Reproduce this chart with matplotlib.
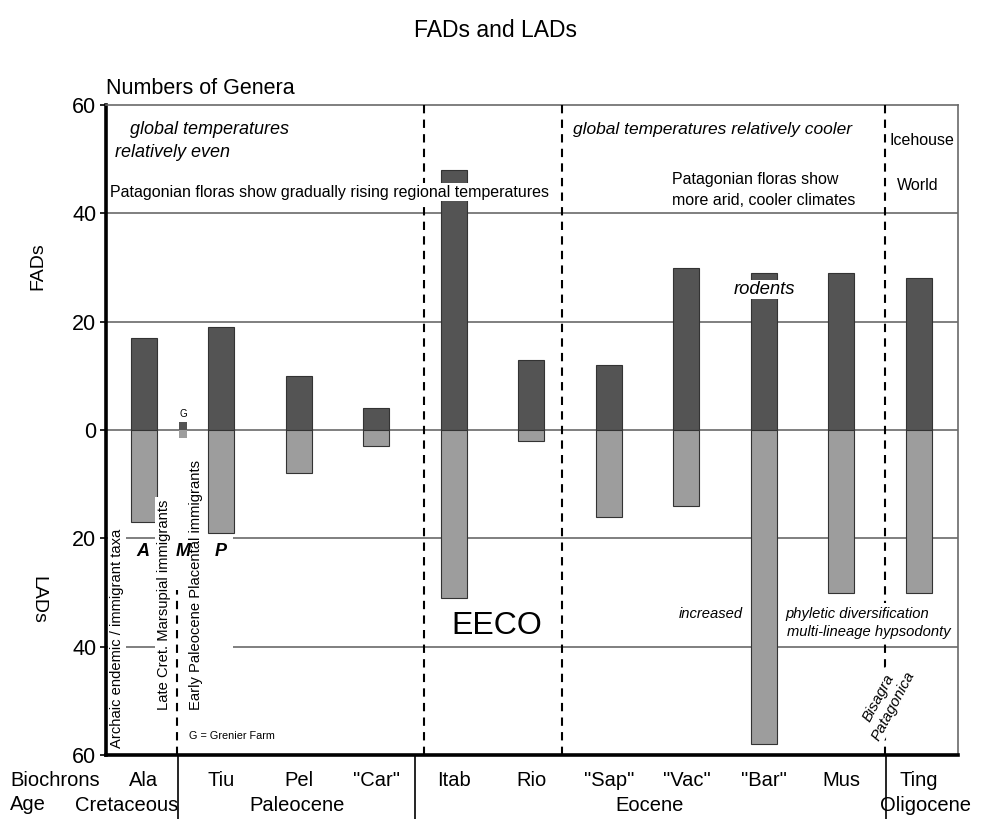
import matplotlib
matplotlib.use("Agg")
import matplotlib.pyplot as plt
import matplotlib.transforms as mtransforms

plt.rcParams['font.family'] = ['Liberation Sans', 'DejaVu Sans']

# ---------------- data ----------------
biochrons = ["Ala", "Tiu", "Pel", "\"Car\"", "Itab", "Rio", "\"Sap\"", "\"Vac\"", "\"Bar\"", "Mus", "Ting"]
fads = [17, 19, 10, 4, 48, 13, 12, 30, 29, 29, 28]
lads = [17, 19, 8, 3, 31, 2, 16, 14, 58, 30, 30]
positions = list(range(len(biochrons)))

grenier_pos = 0.5
grenier_fad = 1.5
grenier_lad = 1.5

ages = ["Cretaceous", "Paleocene", "Eocene", "Oligocene"]
age_pos = [-0.23, 1.97, 6.53, 10.08]

y_ticks = [-60, -40, -20, 0, 20, 40, 60]

dashed_bounds = [3.61, 5.39, 9.56]
cret_bound = 0.43
age_dividers = [0.44, 3.5, 9.57]

# ---------------- figure ----------------
fig = plt.figure(figsize=(9.91, 8.19), dpi=100)
ax = fig.add_axes([0.10696, 0.07814, 0.8597, 0.79365])
ax.set_xlim(-0.49, 10.503)
ax.set_ylim(-60, 60)

dark = '#545454'
light = '#9d9d9d'
edge = '#333333'
grid_c = '#6a6a6a'

# grid lines
for y in [40, 20, 0]:
    ax.axhline(y, color=grid_c, lw=1.2, zorder=1)
for y in [-20, -40]:
    ax.hlines(y, -0.49, 0.142, color=grid_c, lw=1.2, zorder=1)
    ax.hlines(y, 1.148, 10.503, color=grid_c, lw=1.2, zorder=1)

# bars
ax.bar(positions, fads, width=0.335, color=dark, edgecolor=edge, lw=0.8, zorder=3)
ax.bar(positions, [-v for v in lads], width=0.335, color=light, edgecolor=edge, lw=0.8, zorder=3)
ax.bar([grenier_pos], [grenier_fad], width=0.103, color=dark, edgecolor='none', zorder=3)
ax.bar([grenier_pos], [-grenier_lad], width=0.103, color=light, edgecolor='none', zorder=3)

# dashed boundaries
dash = (0, (4, 3))
for xb in dashed_bounds:
    ax.vlines(xb, -60, 60, colors='black', linestyles=dash, lw=1.5, zorder=4)
ax.vlines(cret_bound, -60, -29.5, colors='black', linestyles=dash, lw=1.5, zorder=4)

# spines
for s in ['left', 'bottom']:
    ax.spines[s].set_linewidth(2.6)
    ax.spines[s].set_color('black')
for s in ['top', 'right']:
    ax.spines[s].set_linewidth(1.2)
    ax.spines[s].set_color(grid_c)

ax.set_xticks([])
ax.set_yticks(y_ticks)
ax.set_yticklabels([str(abs(v)) for v in y_ticks])
ax.tick_params(axis='y', length=4, width=1.2, labelsize=15.5, pad=3)

wb = dict(facecolor='white', edgecolor='none', boxstyle='square,pad=0.1')

# annotations inside plot
ax.text(-0.18, 55.4, "global temperatures", style='italic', fontsize=13, ha='left', va='center', zorder=5)
ax.text(-0.374, 51.3, "relatively even", style='italic', fontsize=13, ha='left', va='center', zorder=5)
ax.text(-0.44, 43.9, "Patagonian floras show gradually rising regional temperatures",
        fontsize=11.5, ha='left', va='center', zorder=5, bbox=wb)
ax.text(5.535, 55.4, "global temperatures relatively cooler", style='italic', fontsize=12.5,
        ha='left', va='center', zorder=5)
ax.text(10.04, 53.5, "Icehouse", fontsize=11.5, ha='center', va='center', zorder=5)
ax.text(9.99, 45.2, "World", fontsize=11.5, ha='center', va='center', zorder=5)
ax.text(6.81, 46.2, "Patagonian floras show", fontsize=11.5, ha='left', va='center', zorder=5)
ax.text(6.81, 42.3, "more arid, cooler climates", fontsize=11.5, ha='left', va='center', zorder=5)
ax.text(8.0, 26.0, "rodents", style='italic', fontsize=13.3, ha='center', va='center', zorder=5,
        bbox=dict(facecolor='white', edgecolor='none', boxstyle='square,pad=0.05'))
ax.text(0.503, 3.0, "G", fontsize=7, ha='center', va='center', zorder=5)

rb = dict(facecolor='white', edgecolor='none', boxstyle='square,pad=0.15')
ax.text(-0.348, -58.7, "Archaic endemic / immigrant taxa", rotation=90, fontsize=10.6,
        ha='center', va='bottom', zorder=5, bbox=rb)
ax.text(0.258, -51.7, "Late Cret. Marsupial immigrants", rotation=90, fontsize=10.6,
        ha='center', va='bottom', zorder=5, bbox=rb)
ax.text(0.671, -51.7, "Early Paleocene Placental immigrants", rotation=90, fontsize=10.6,
        ha='center', va='bottom', zorder=5, bbox=rb)
for lab, xp in zip(["A", "M", "P"], [-0.013, 0.503, 0.994]):
    ax.text(xp, -22.4, lab, fontsize=13, fontweight='bold', style='italic', ha='center',
            va='center', zorder=7)
ax.text(0.58, -56.5, "G = Grenier Farm", fontsize=7.8, ha='left', va='center', zorder=5)
ax.text(4.555, -36.2, "EECO", fontsize=23, ha='center', va='center', zorder=5)
ax.text(6.90, -34.0, "increased", style='italic', fontsize=10.6, ha='left', va='center', zorder=5)
pb = dict(facecolor='white', edgecolor='none', boxstyle='square,pad=0.3')
ax.text(8.27, -34.0, "phyletic diversification", style='italic', fontsize=10.6, ha='left',
        va='center', zorder=5, bbox=pb)
ax.text(8.30, -37.3, "multi-lineage hypsodonty", style='italic', fontsize=10.6, ha='left',
        va='center', zorder=5, bbox=pb)
ax.text(9.574, -50.2, "Bisagra\nPatagonica", style='italic', fontsize=11, rotation=62,
        rotation_mode='anchor', ha='center', va='center', multialignment='center',
        zorder=5, bbox=dict(facecolor='white', edgecolor='none', boxstyle='square,pad=0.1'))

# bottom label rows
trans = mtransforms.blended_transform_factory(ax.transData, ax.transAxes)
for xp, lab in zip(positions, biochrons):
    ax.text(xp, -0.0385, lab, transform=trans, fontsize=14.5, ha='center', va='center', clip_on=False)
for xp, lab in zip(age_pos, ages):
    ax.text(xp, -0.077, lab, transform=trans, fontsize=14.5, ha='center', va='center', clip_on=False)
for xd in age_dividers:
    ax.plot([xd, xd], [0, -0.1], transform=trans, color='black', lw=1.2, clip_on=False)

fig.text(10 / 991, 1 - 780 / 819, "Biochrons", fontsize=14.5, ha='left', va='center')
fig.text(10 / 991, 1 - 805 / 819, "Age", fontsize=14.5, ha='left', va='center')

# titles / axis labels
fig.text(0.5, 0.963, "FADs and LADs", fontsize=16.5, ha='center', va='center')
fig.text(0.107, 1 - 88 / 819, "Numbers of Genera", fontsize=15.5, ha='left', va='center')
fig.text(38 / 991, 1 - 266 / 819, "FADs", fontsize=14, rotation=90, ha='center', va='center')
fig.text(38 / 991, 1 - 600 / 819, "LADs", fontsize=14, rotation=270, ha='center', va='center')

fig.savefig("out.png", dpi=100)
